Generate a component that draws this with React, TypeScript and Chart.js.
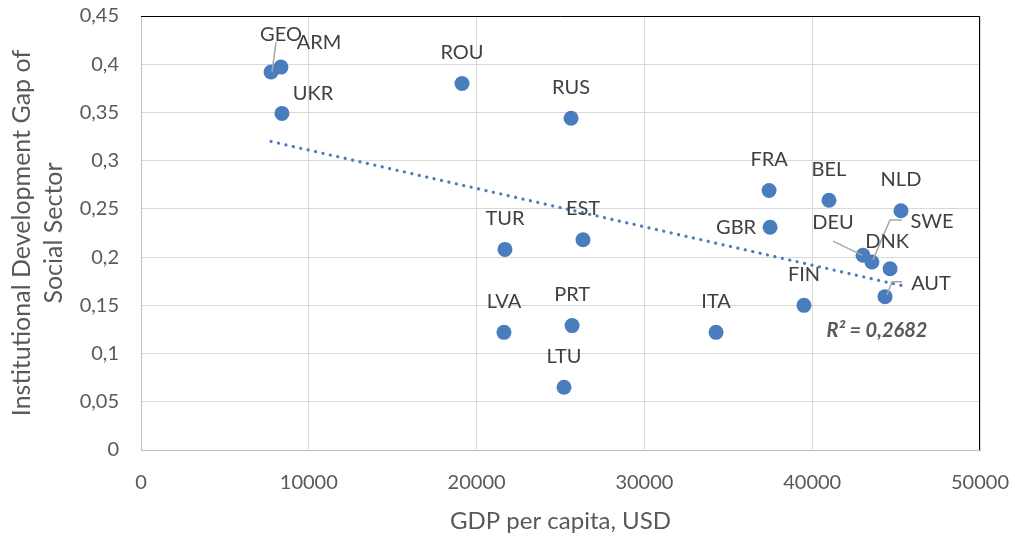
import React, { useEffect, useRef } from "react";
import { Chart, registerables } from "chart.js";

Chart.register(...registerables);

const countries = ["GEO", "ARM", "UKR", "ROU", "RUS", "FRA", "BEL", "NLD", "GBR", "EST", "TUR", "DEU", "SWE", "DNK", "AUT", "FIN", "ITA", "LVA", "PRT", "LTU"];
const gdpPerCapita = [7750, 8340, 8400, 19130, 25630, 37430, 41000, 45290, 37490, 26340, 21690, 43030, 43560, 44640, 44340, 39510, 34270, 21630, 25690, 25210];
const socialGap = [0.392, 0.397, 0.349, 0.38, 0.344, 0.269, 0.259, 0.248, 0.231, 0.218, 0.208, 0.202, 0.195, 0.188, 0.159, 0.15, 0.122, 0.122, 0.129, 0.065];
const xTitle = "GDP per capita, USD";
const yTitle = ["Institutional Development Gap of", "Social Sector"];
const rSquaredText = "R² = 0,2682";

// label placement (pixel offsets from each point), kept apart from the data
const labelOffsets: Record<string, [number, number]> = {
  GEO: [10, -37],
  ARM: [38, -25],
  UKR: [31, -20],
  GBR: [-34, 0],
  DEU: [-30, -33],
  DNK: [-3, -27],
  SWE: [60, -40],
  AUT: [46, -13],
};
const leaders: Record<string, [number, number][]> = {
  GEO: [[5, -30], [1, 0]],
  DEU: [[-30, -14], [-1, 0]],
  SWE: [[30, -42], [18, -42], [1, -2]],
  AUT: [[17, -15], [7, -15], [2, -2]],
};

const FONT = "Lato, 'Open Sans', sans-serif";
const BLUE = "rgb(73,125,190)";

function regression(xs: number[], ys: number[]) {
  const n = xs.length;
  const mx = xs.reduce((a, b) => a + b, 0) / n;
  const my = ys.reduce((a, b) => a + b, 0) / n;
  let sxy = 0, sxx = 0;
  for (let i = 0; i < n; i++) {
    sxy += (xs[i] - mx) * (ys[i] - my);
    sxx += (xs[i] - mx) ** 2;
  }
  const slope = sxy / sxx;
  return { slope, intercept: my - slope * mx };
}

export default function App() {
  const ref = useRef<HTMLCanvasElement>(null);
  useEffect(() => {
    if (!ref.current) return;
    const { slope, intercept } = regression(gdpPerCapita, socialGap);
    const xMin = Math.min(...gdpPerCapita);
    const xMax = Math.max(...gdpPerCapita);
    const trend = [
      { x: xMin, y: intercept + slope * xMin },
      { x: xMax, y: intercept + slope * xMax },
    ];

    const overlay = {
      id: "overlay",
      beforeDatasetsDraw(chart: any) {
        const { ctx, chartArea: a } = chart;
        ctx.save();
        ctx.strokeStyle = "#000";
        ctx.lineWidth = 1;
        ctx.beginPath();
        ctx.moveTo(a.left, a.top + 0.5);
        ctx.lineTo(a.right - 0.5, a.top + 0.5);
        ctx.lineTo(a.right - 0.5, a.bottom);
        ctx.stroke();
        ctx.restore();
      },
      afterDatasetsDraw(chart: any) {
        const { ctx } = chart;
        const meta = chart.getDatasetMeta(1);
        ctx.save();
        ctx.strokeStyle = "#a6a6a6";
        ctx.lineWidth = 1.5;
        countries.forEach((c, i) => {
          const p = meta.data[i];
          const l = leaders[c];
          if (!l) return;
          ctx.beginPath();
          l.forEach(([dx, dy], k) => {
            if (k === 0) ctx.moveTo(p.x + dx, p.y + dy);
            else ctx.lineTo(p.x + dx, p.y + dy);
          });
          ctx.stroke();
        });
        ctx.fillStyle = "#404040";
        ctx.font = `20px ${FONT}`;
        ctx.textAlign = "center";
        ctx.textBaseline = "middle";
        countries.forEach((c, i) => {
          const p = meta.data[i];
          const off = labelOffsets[c] || [0, -31];
          ctx.fillText(c, p.x + off[0], p.y + off[1]);
        });
        const xs = chart.scales.x;
        const ys = chart.scales.y;
        ctx.fillStyle = "#595959";
        ctx.font = `italic bold 20px ${FONT}`;
        ctx.fillText(rSquaredText, xs.getPixelForValue(43860), ys.getPixelForValue(0.1234));
        ctx.restore();
      },
    };

    const chart = new Chart(ref.current, {
      type: "scatter",
      data: {
        datasets: [
          {
            type: "line",
            data: trend,
            borderColor: BLUE,
            borderWidth: 3.2,
            borderDash: [0.1, 7.5],
            borderCapStyle: "round",
            pointRadius: 0,
            fill: false,
          } as any,
          {
            data: gdpPerCapita.map((x, i) => ({ x, y: socialGap[i] })),
            backgroundColor: BLUE,
            borderColor: BLUE,
            pointRadius: 7.5,
            pointBorderWidth: 0,
          },
        ],
      },
      options: {
        animation: false,
        responsive: false,
        devicePixelRatio: 1,
        layout: { autoPadding: false, padding: { left: 0, top: 16, right: 35, bottom: 0 } },
        plugins: { legend: { display: false }, tooltip: { enabled: false } },
        scales: {
          x: {
            type: "linear",
            min: 0,
            max: 50000,
            afterFit: (s: any) => {
              s.height = 86;
              s.paddingLeft = 0;
              s.paddingRight = 0;
            },
            ticks: {
              stepSize: 10000,
              color: "#595959",
              font: { family: FONT, size: 20 },
              padding: 21,
              maxRotation: 0,
              callback: (v: any) => String(v),
            },
            grid: { color: "#d9d9d9", drawTicks: false },
            border: { color: "#bfbfbf" },
            title: {
              display: true,
              text: xTitle,
              color: "#595959",
              font: { family: FONT, size: 24 },
              padding: { top: 6, bottom: 0 },
            },
          },
          y: {
            type: "linear",
            min: 0,
            max: 0.45,
            afterFit: (s: any) => {
              s.width = 141;
              s.paddingTop = 0;
              s.paddingBottom = 0;
            },
            ticks: {
              stepSize: 0.05,
              color: "#595959",
              font: { family: FONT, size: 20 },
              padding: 22,
              callback: (v: any) => String(Math.round(Number(v) * 100) / 100).replace(".", ","),
            },
            grid: { color: "#d9d9d9", drawTicks: false },
            border: { color: "#bfbfbf" },
            title: {
              display: true,
              text: yTitle,
              color: "#595959",
              font: { family: FONT, size: 25, lineHeight: 1.28 },
              padding: { top: 6, bottom: 0 },
            },
          },
        },
      },
      plugins: [overlay],
    });
    return () => chart.destroy();
  }, []);
  return (
    <div style={{ position: "absolute", left: 0, top: 0, width: 1015, height: 536, background: "#fff" }}>
      <canvas ref={ref} width={1015} height={536} style={{ display: "block" }} />
    </div>
  );
}
